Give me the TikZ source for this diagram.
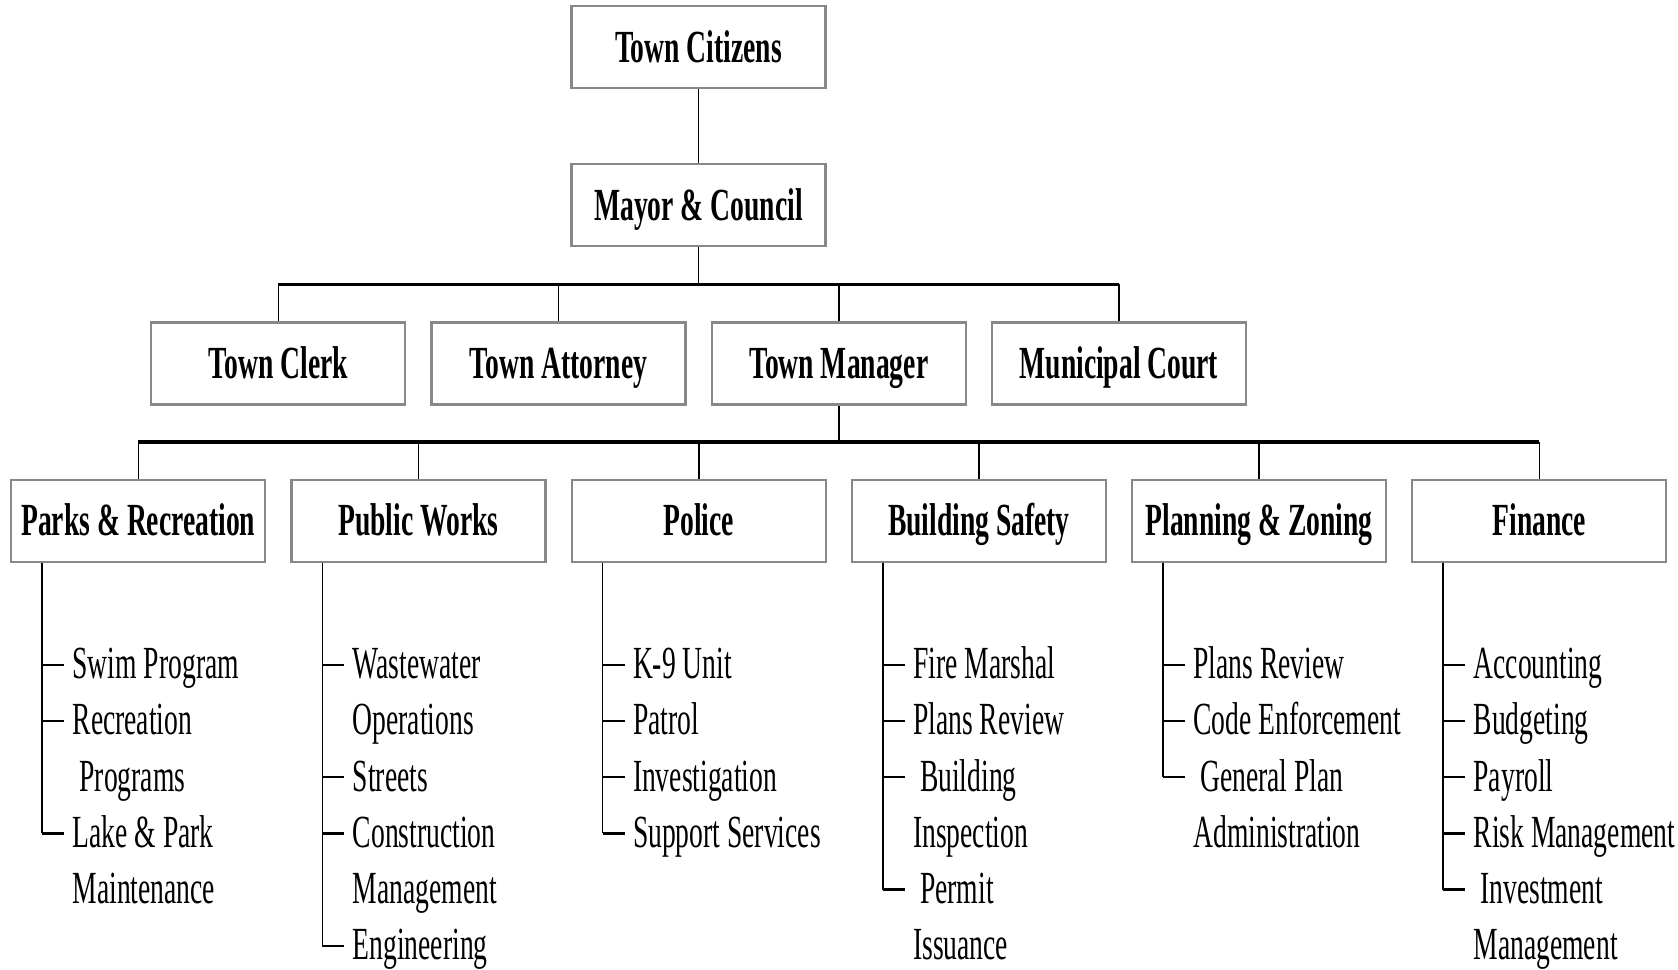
\documentclass[tikz,border=0pt]{standalone}
\usepackage{fontspec}
\setmainfont{Liberation Serif}[FakeStretch=0.6]
\usepackage{tikz}
\usetikzlibrary{positioning}
\definecolor{BoxGray}{HTML}{888888}

\begin{document}
\begin{tikzpicture}[
    node distance=37pt and 12pt,
    every node/.style={font=\fontsize{23}{28}\selectfont},
    office/.style={draw=BoxGray, line width=1.1pt, minimum width=127pt, minimum height=41pt, inner xsep=2pt, font=\fontsize{23}{28}\selectfont\bfseries, text height=15pt, text depth=0pt},
    duty/.style={anchor=west, inner sep=0pt, text height=14pt, text depth=0pt},
    link/.style={line width=0.8pt},
    bus/.style={line width=1.6pt},
    tick/.style={line width=1.2pt}
  ]
  \useasboundingbox (0,0) rectangle (839pt,-485pt);

  \node[office] (citizens) at (349.25pt,-23.5pt) {Town Citizens};
  \node[office, below=of citizens] (mayor) {Mayor \& Council};

  % officers
  \node[office, below=of mayor, xshift=-70pt] (attorney) {Town Attorney};
  \node[office, left=of attorney] (clerk) {Town Clerk};
  \node[office, right=of attorney] (manager) {Town Manager};
  \node[office, right=of manager] (court) {Municipal Court};

  % departments
  \node[office, below=36.5pt of manager, xshift=-70pt] (police) {Police};
  \node[office, left=of police] (works) {Public Works};
  \node[office, left=of works] (parks) {Parks \& Recreation};
  \node[office, right=of police] (safety) {Building Safety};
  \node[office, right=of safety] (planning) {Planning \& Zoning};
  \node[office, right=of planning] (finance) {Finance};

  % connectors
  \coordinate[below=18.5pt of mayor] (split1);
  \coordinate[below=18.25pt of manager] (split2);
  \draw[link] (citizens) -- (mayor);
  \draw[link] (mayor) -- (split1);
  \draw[bus] (split1 -| clerk) -- (split1 -| court);
  \foreach \n in {clerk,attorney,manager,court}
    \draw[link] (split1 -| \n) -- (\n);
  \draw[link] (manager) -- (split2);
  \draw[bus] (split2 -| parks) -- (split2 -| finance);
  \foreach \n in {parks,works,police,safety,planning,finance}
    \draw[link] (split2 -| \n) -- (\n);
  \foreach \n in {parks,works,police,safety,planning,finance}
    \coordinate (\n-spine) at ([xshift=16pt]\n.south west);

  % Parks & Recreation
  \foreach \r/\t in {0/Swim Program, 1/Recreation, 2/~Programs, 3/Lake \& Park, 4/Maintenance}
    \node[duty] (parks-\r) at ([xshift=31pt, yshift={-51pt-\r*28.1pt}]parks.south west) {\t};
  \draw[link] (parks-spine) -- (parks-spine |- parks-3.west);
  \foreach \r in {0,1,3}
    \draw[tick] (parks-spine |- parks-\r.west) -- ([xshift=-4pt]parks-\r.west);

  % Public Works
  \foreach \r/\t in {0/Wastewater, 1/Operations, 2/Streets, 3/Construction, 4/Management, 5/Engineering}
    \node[duty] (works-\r) at ([xshift=31pt, yshift={-51pt-\r*28.1pt}]works.south west) {\t};
  \draw[link] (works-spine) -- (works-spine |- works-5.west);
  \foreach \r in {0,2,3,5}
    \draw[tick] (works-spine |- works-\r.west) -- ([xshift=-4pt]works-\r.west);

  % Police
  \foreach \r/\t in {0/K-9 Unit, 1/Patrol, 2/Investigation, 3/Support Services}
    \node[duty] (police-\r) at ([xshift=31pt, yshift={-51pt-\r*28.1pt}]police.south west) {\t};
  \draw[link] (police-spine) -- (police-spine |- police-3.west);
  \foreach \r in {0,1,2,3}
    \draw[tick] (police-spine |- police-\r.west) -- ([xshift=-4pt]police-\r.west);

  % Building Safety
  \foreach \r/\t in {0/Fire Marshal, 1/Plans Review, 2/~Building, 3/Inspection, 4/~Permit, 5/Issuance}
    \node[duty] (safety-\r) at ([xshift=31pt, yshift={-51pt-\r*28.1pt}]safety.south west) {\t};
  \draw[link] (safety-spine) -- (safety-spine |- safety-4.west);
  \foreach \r in {0,1,2,4}
    \draw[tick] (safety-spine |- safety-\r.west) -- ([xshift=-4pt]safety-\r.west);

  % Planning & Zoning
  \foreach \r/\t in {0/Plans Review, 1/Code Enforcement, 2/~General Plan, 3/Administration}
    \node[duty] (planning-\r) at ([xshift=31pt, yshift={-51pt-\r*28.1pt}]planning.south west) {\t};
  \draw[link] (planning-spine) -- (planning-spine |- planning-2.west);
  \foreach \r in {0,1,2}
    \draw[tick] (planning-spine |- planning-\r.west) -- ([xshift=-4pt]planning-\r.west);

  % Finance
  \foreach \r/\t in {0/Accounting, 1/Budgeting, 2/Payroll, 3/Risk Management, 4/~Investment, 5/Management}
    \node[duty] (finance-\r) at ([xshift=31pt, yshift={-51pt-\r*28.1pt}]finance.south west) {\t};
  \draw[link] (finance-spine) -- (finance-spine |- finance-4.west);
  \foreach \r in {0,1,2,3,4}
    \draw[tick] (finance-spine |- finance-\r.west) -- ([xshift=-4pt]finance-\r.west);

\end{tikzpicture}
\end{document}
